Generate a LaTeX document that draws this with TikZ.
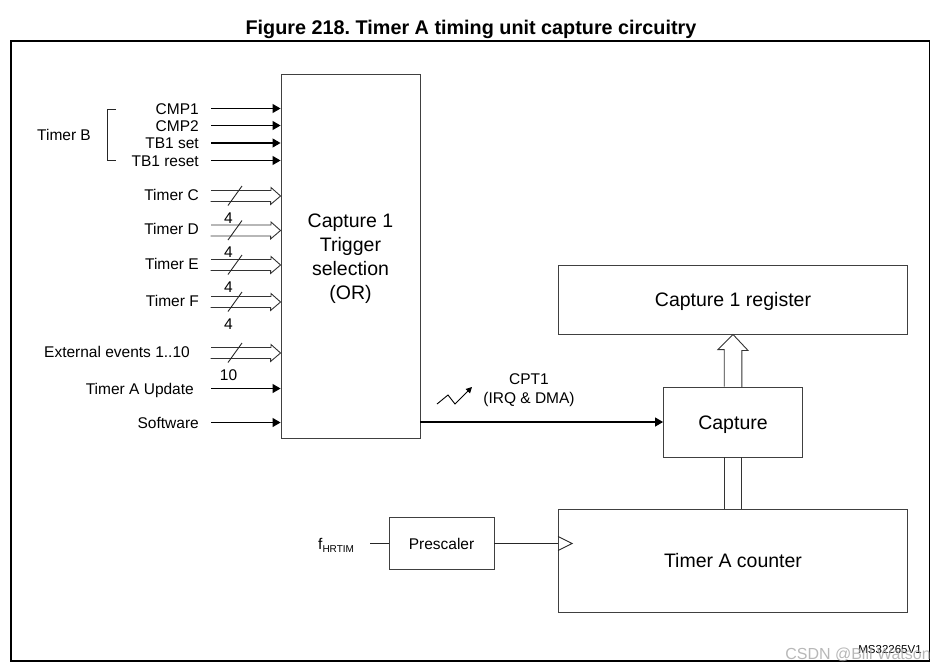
\documentclass[tikz,border=0pt]{standalone}
\usepackage{fontspec}
\setmainfont{Liberation Sans}
\usetikzlibrary{arrows.meta,calc}
\begin{document}
\frenchspacing
\begin{tikzpicture}[x=1pt,y=-1pt,
  lbl/.style={font=\fontsize{15.5}{18}\selectfont, inner sep=0pt, text height=11pt, text depth=0pt},
  big/.style={font=\fontsize{19.5}{24}\selectfont, text height=14pt, text depth=0pt},
  box/.style={draw=black!75, line width=0.9pt, inner sep=0pt},
  sarrow/.style={-{Triangle[length=8pt,width=9pt]}, line width=1.1pt},
  bus/.style={line width=0.9pt, draw=black!80},
  thin/.style={line width=0.9pt, draw=black!85}]
\useasboundingbox (0,0) rectangle (941,670);
% title and frame
\node[font=\fontsize{19.8}{22}\selectfont\bfseries, text height=14pt, text depth=0pt] (title) at (471,27) {Figure 218. Timer A timing unit capture circuitry};
\draw[line width=1.3pt] (11,41) rectangle (929.5,661);
% boxes
\node[box, minimum width=139pt, minimum height=364pt] (main) at (350.5,256) {};
\node[font=\fontsize{19.5}{24}\selectfont, align=center, inner sep=0pt] (maintxt) at (main.center) [yshift=-2.5pt]
  {Capture 1\\Trigger\\selection\\(OR)};
\node[box, big, minimum width=349pt, minimum height=69pt] (reg) at (733,299.5) {Capture 1 register};
\node[box, big, minimum width=139pt, minimum height=70pt] (cap) at (733,422) {Capture};
\node[box, big, minimum width=349pt, minimum height=103pt] (cnt) at (733,560.5) {Timer A counter};
\node[box, lbl, minimum width=105pt, minimum height=52pt] (pre) at (441.5,543.5) {Prescaler};
% single inputs
\foreach \n/\y/\t in {cmpa/108.5/CMP1, cmpb/125.5/CMP2, tbset/143/TB1 set, tbres/160.5/TB1 reset, soft/422.5/Software}{
  \node[lbl, anchor=east] (\n) at (199,\y) {\t};
  \coordinate (\n s) at (211,\y);
  \draw[sarrow] (\n s) -- (main.west |- \n s);
}
\node[lbl, anchor=east] (tau) at (194,388.5) {Timer A Update};
\coordinate (taus) at (211,388.5);
\draw[sarrow] (taus) -- (main.west |- taus);
% Timer B bracket
\node[lbl] (tb) at (64,135) {Timer B};
\draw[thin] (116,109) -- (107,109) -- (107,160.5) -- (116,160.5);
% buses
\foreach \n/\y/\t/\w/\ex in {busc/196/Timer C/4/199, busd/230.5/Timer D/4/199, buse/265/Timer E/4/199, busf/302/Timer F/4/199, buse10/353/External events 1..10/10/190}{
  \node[lbl, anchor=east] (\n l) at (\ex,\y-1.5) {\t};
  \coordinate (\n) at (211,\y);
  \draw[bus] (\n) ++(0,-5.5) -- ++(60,0) -- ++(0,-3) -- (main.west |- \n) -- ++(-10,8.5) -- ++(0,-3) -- ++(-60,0);
  \draw[thin] (\n) ++(17,9.5) -- ++(14,-19.5);
  \node[lbl] (\n w) at ($(\n)+(17.5,21.5)$) {\w};
}
% CPT1
\draw[sarrow] (main.east |- cap.west) -- (cap.west);
\node[lbl] (cpt) at (529,379) {CPT1};
\node[lbl] (irq) at (529,398) {(IRQ \& DMA)};
\coordinate (zz) at (437,404);
\draw[line width=0.9pt, -{Triangle[length=6pt,width=6pt]}] (zz) -- ++(11,-9) -- ++(7,9) -- ++(17,-17);
% capture to register
\draw[bus] (cap.north) ++(-8.8,0) -- ++(0,-37) -- ++(-6.2,0) -- (reg.south) -- ++(15,16) -- ++(-6.2,0) -- ++(0,37);
% counter to capture
\draw[bus] ([xshift=-8.8pt]cap.south) -- ([xshift=-8.8pt]cap.south |- cnt.north);
\draw[bus] ([xshift=8.8pt]cap.south) -- ([xshift=8.8pt]cap.south |- cnt.north);
% clock
\node[anchor=west, inner sep=0pt] (fh) at (318,545) {\fontsize{15.5}{18}\selectfont f\raisebox{-3pt}{\fontsize{10}{12}\selectfont HRTIM}};
\draw[thin] ([xshift=16pt]fh.east |- pre.west) -- (pre.west);
\draw[thin] (pre.east) -- (cnt.west |- pre.east);
\draw[thin] (cnt.west |- pre.east) ++(0,-7) -- ++(14,7) -- ++(-14,7);
% ids
\node[inner sep=0pt, font=\fontsize{11.5}{13}\selectfont] (ms) at (890,650) {MS32265V1};
\node[inner sep=0pt, font=\fontsize{16}{18}\selectfont, text=black!35, opacity=0.8] (wm) at (858,655) {CSDN @Bill Watson};
\end{tikzpicture}
\end{document}
